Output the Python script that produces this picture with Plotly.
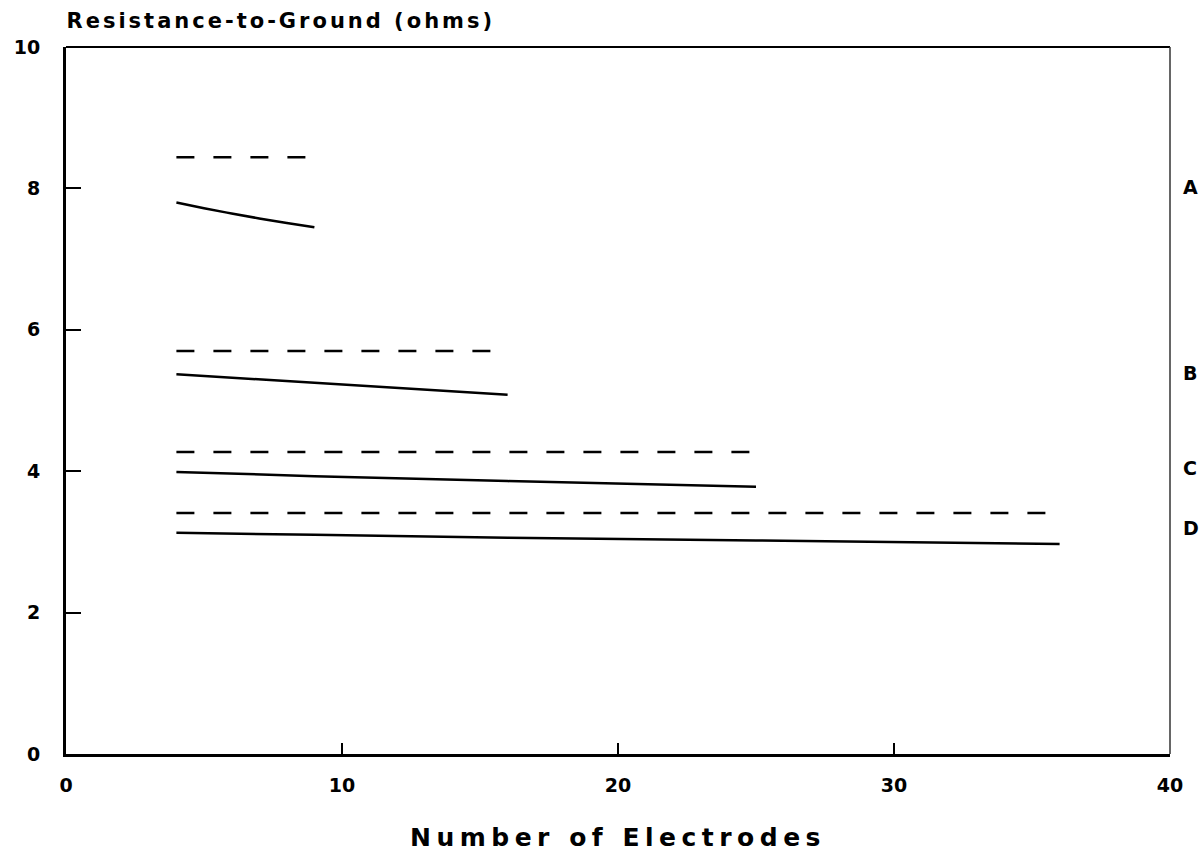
import plotly.graph_objects as go

# ---- data ----
series_names = ["A", "B", "C", "D"]

x_A = [4, 5, 6, 7, 8, 9]
solid_A = [7.80, 7.72, 7.645, 7.575, 7.51, 7.45]
dash_A = [8.44, 8.44, 8.44, 8.44, 8.44, 8.44]

x_B = [4, 9, 16]
solid_B = [5.37, 5.25, 5.08]
dash_B = [5.70, 5.70, 5.70]

x_C = [4, 9, 16, 25]
solid_C = [3.99, 3.93, 3.86, 3.78]
dash_C = [4.27, 4.27, 4.27, 4.27]

x_D = [4, 9, 16, 25, 36]
solid_D = [3.13, 3.10, 3.06, 3.02, 2.97]
dash_D = [3.41, 3.41, 3.41, 3.41, 3.41]

label_y = [8.02, 5.39, 4.05, 3.20]

x_ticks = [0, 10, 20, 30, 40]
y_ticks = [0, 2, 4, 6, 8, 10]

FONT = "DejaVu Sans"

fig = go.Figure()
for xs, ys_solid, ys_dash in [(x_A, solid_A, dash_A), (x_B, solid_B, dash_B),
                               (x_C, solid_C, dash_C), (x_D, solid_D, dash_D)]:
    fig.add_trace(go.Scatter(x=xs, y=ys_dash, mode="lines",
                             line=dict(color="black", width=2.5, dash="18px,19px"),
                             showlegend=False, hoverinfo="skip"))
    fig.add_trace(go.Scatter(x=xs, y=ys_solid, mode="lines",
                             line=dict(color="black", width=2.5, shape="spline", smoothing=1.0),
                             showlegend=False, hoverinfo="skip"))

for name, yv in zip(series_names, label_y):
    fig.add_annotation(x=1.0, xref="paper", y=yv, yref="y", text=name,
                       xanchor="left", xshift=11, showarrow=False,
                       font=dict(family=FONT, size=19, color="black", weight="bold"))

# y-axis title at top left (letter-spaced in post script; shift compensates centring)
fig.add_annotation(x=0, xref="paper", y=1, yref="paper", yshift=12,
                   text="Resistance-to-Ground (ohms)", xanchor="left", yanchor="bottom",
                   xshift=39, showarrow=False, name="ytitle",
                   font=dict(family=FONT, size=21, color="black", weight="bold"))

# thinner top/right frame
fig.add_shape(type="line", xref="paper", yref="paper", x0=0, x1=1, y0=1, y1=1,
              line=dict(color="black", width=2))
fig.add_shape(type="line", xref="paper", yref="paper", x0=1, x1=1, y0=0, y1=1,
              line=dict(color="#333", width=1.5))

fig.update_layout(
    width=1201, height=863,
    margin=dict(l=66, r=31, t=47, b=109),
    paper_bgcolor="white", plot_bgcolor="white",
    showlegend=False,
    xaxis=dict(range=[0, 40], tickvals=x_ticks, ticks="inside", ticklen=11,
               tickwidth=2, tickcolor="black", showgrid=False, zeroline=False,
               showline=True, linewidth=3, linecolor="black",
               tickfont=dict(family=FONT, size=19, color="black", weight="bold"),
               ticklabelstandoff=12,
               title=dict(text="Number of Electrodes", standoff=34,
                          font=dict(family=FONT, size=25, color="black", weight="bold"))),
    yaxis=dict(range=[0, 10], tickvals=y_ticks, ticks="inside", ticklen=15,
               tickwidth=2, tickcolor="black", showgrid=False, zeroline=False,
               showline=True, linewidth=3, linecolor="black",
               tickfont=dict(family=FONT, size=19, color="black", weight="bold"),
               ticklabelstandoff=19),
)

post = """
document.body.style.margin = '0';
var gd = document.getElementById('{plot_id}');
function widen() {
  gd.querySelectorAll('.xtitle').forEach(function(e){ e.style.letterSpacing = '5.5px'; });
  gd.querySelectorAll('.annotation-text').forEach(function(e){
    if (e.textContent.indexOf('Resistance') === 0) { e.style.letterSpacing = '3px'; }
  });
}
widen();
gd.on('plotly_afterplot', widen);
"""

fig.write_html("out.html", post_script=post, config={"displayModeBar": False})
